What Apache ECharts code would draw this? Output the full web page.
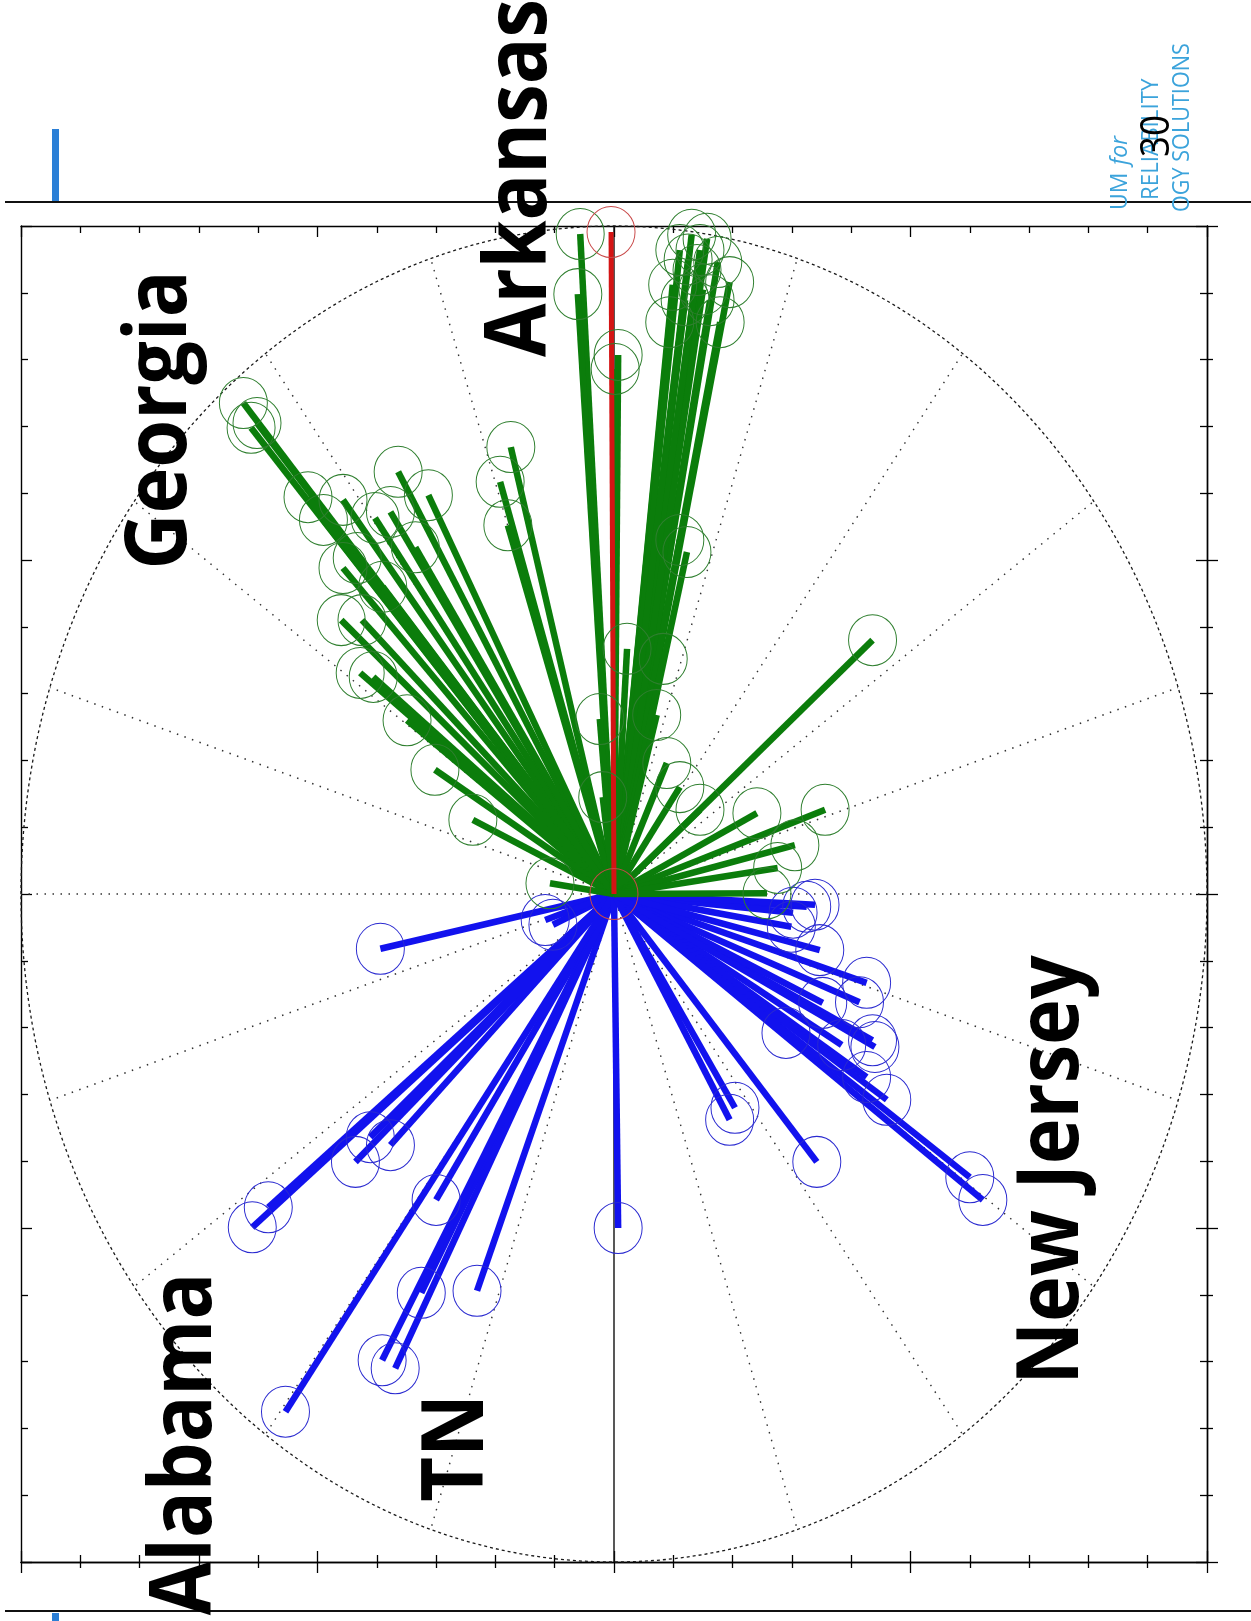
<!DOCTYPE html>
<html>
<head>
<meta charset="utf-8">
<script src="https://cdn.jsdelivr.net/npm/echarts@6/dist/echarts.min.js"></script>
<style>
  html, body { margin: 0; padding: 0; background: #fff; }
  #chart { width: 1251px; height: 1621px; }
</style>
</head>
<body>
<div id="chart"></div>
<script>
// ---- Data (phasor end points, in plot units; centre = 0,0, outer circle radius = 10) ----
const georgiaPhasors = [
  [-6.25, 7.35], [-6.12, 6.98], [-6.02, 7.05], [-5.16, 5.94], [-4.57, 5.90], [-3.64, 6.32], [-3.13, 5.97],
  [-4.03, 5.63], [-3.77, 5.72], [-3.35, 5.19], [-4.57, 4.88], [-4.33, 5.03], [-4.60, 4.10],
  [-4.25, 4.10], [-4.28, 3.31], [-4.06, 3.25], [-3.49, 2.60], [-3.02, 1.86], [-2.38, 1.11],
  [-1.74, 6.69], [-1.92, 6.17], [-1.79, 5.52], [-1.08, 0.16], [-4.90, 5.60], [-3.90, 4.60]
];
const arkansasPhasors = [
  [-0.57, 9.88], [-0.61, 8.98], [0.07, 8.07], [0.02, 7.86],
  [1.31, 9.87], [1.57, 9.81], [1.45, 9.64], [1.75, 9.46], [1.95, 9.16], [1.79, 8.56],
  [0.99, 9.12], [0.94, 8.56], [1.20, 8.89], [1.62, 8.89], [1.40, 9.34], [1.11, 9.64],
  [1.25, 9.50], [1.50, 9.05]
];
const greenOtherPhasors = [
  [1.23, 5.12], [1.11, 5.30], [0.83, 3.52], [0.72, 2.68], [-0.24, 2.62], [0.22, 3.67],
  [4.36, 3.80], [0.89, 1.96], [1.11, 1.60], [1.45, 1.26], [2.41, 1.21], [3.56, 1.26],
  [3.05, 0.73], [2.76, 0.39], [2.58, 0.01], [-0.19, 1.45]
];
const redPhasors = [[-0.05, 9.91], [0.0, 0.0]];
const alabamaTnPhasors = [
  [-3.94, -0.82], [-1.03, -0.46], [-1.16, -0.39], [-5.83, -4.69], [-6.10, -4.99],
  [-4.36, -4.01], [-4.11, -3.64], [-3.77, -3.76], [-3.00, -4.58], [-2.31, -5.94],
  [-3.25, -5.97], [-3.91, -6.98], [-3.69, -7.10], [-5.54, -7.75], [0.07, -5.00]
];
const newJerseyPhasors = [
  [3.25, -0.19], [3.02, -0.28], [3.39, -0.16], [2.99, -0.49], [4.26, -1.33], [4.14, -1.62],
  [3.84, -2.26], [4.36, -2.19], [3.52, -1.63], [4.26, -2.74], [4.60, -3.08], [6.22, -4.58],
  [6.00, -4.24], [3.42, -4.01], [2.04, -3.20], [1.95, -3.38], [2.90, -2.08], [3.47, -0.84],
  [4.40, -2.29]
];
const spokeAngles = [18, 36, 54, 72, 90, 108, 126, 144, 162, 198, 216, 234, 252, 270, 288, 306, 324, 342];
const outerRadius = [10];
const axisRange = [-10, 10];
const stateLabels = ['Georgia', 'Arkansas', 'New Jersey', 'Alabama', 'TN'];
const logoLines = ['UM ', 'for', 'RELIABILITY', 'OGY SOLUTIONS'];
const pageNumber = '30';

const GREEN = '#0b7d0b', BLUE = '#1212ee', RED = '#d41414';
const greenAll = georgiaPhasors.concat(arkansasPhasors, greenOtherPhasors);
const blueAll = alabamaTnPhasors.concat(newJerseyPhasors);

function phasorSeries(data, color, width) {
  return {
    type: 'custom', xAxisIndex: 0, yAxisIndex: 0, data: data, silent: true, z: 4,
    encode: { x: 0, y: 1 },
    renderItem: function (params, api) {
      const p0 = api.coord([0, 0]);
      const p1 = api.coord([api.value(0), api.value(1)]);
      return { type: 'line', shape: { x1: p0[0], y1: p0[1], x2: p1[0], y2: p1[1] },
               style: { stroke: color, lineWidth: width, lineCap: 'butt' } };
    }
  };
}
function circleSeries(data, color) {
  return {
    type: 'scatter', xAxisIndex: 0, yAxisIndex: 0, data: data, silent: true, z: 5,
    symbol: 'circle', symbolSize: [48, 51],
    itemStyle: { color: 'rgba(0,0,0,0)', borderColor: color, borderWidth: 1, opacity: 1 },
    emphasis: { disabled: true }
  };
}

function axisCommon(extra) {
  return Object.assign({
    type: 'value', min: axisRange[0], max: axisRange[1], interval: 5,
    axisLine: { show: true, onZero: false, lineStyle: { color: '#000', width: 1.4 } },
    axisLabel: { show: false }, splitLine: { show: false }
  }, extra);
}
const tickOut = { axisTick: { show: true, inside: false, length: 11, lineStyle: { color: '#000', width: 1.3 } },
                  minorTick: { show: true, splitNumber: 5, length: 6, lineStyle: { color: '#000', width: 1.3 } } };
const tickIn = { axisTick: { show: true, inside: true, length: 11, lineStyle: { color: '#000', width: 1.3 } },
                 minorTick: { show: true, splitNumber: 5, length: 7, lineStyle: { color: '#000', width: 1.3 } } };

const gridRect = { left: 21, top: 226, width: 1186, height: 1336 };

const chart = echarts.init(document.getElementById('chart'), null, { renderer: 'canvas' });
const label = (txt, x, y, size, weight, color, sx, align, style) => ({
  type: 'text', x: x, y: y, rotation: Math.PI / 2, scaleX: sx, scaleY: 1, z: 100,
  style: { text: txt, fill: color, font: (style || 'normal') + ' ' + weight + ' ' + size + 'px "Open Sans"',
           textAlign: align || 'center', textVerticalAlign: 'middle' }
});

chart.setOption({
  animation: false,
  backgroundColor: '#fff',
  grid: [Object.assign({}, gridRect), Object.assign({}, gridRect)],
  xAxis: [
    axisCommon(Object.assign({ gridIndex: 0, position: 'bottom' }, tickOut)),
    axisCommon(Object.assign({ gridIndex: 0, position: 'top' }, tickIn)),
    axisCommon(Object.assign({ gridIndex: 1, position: 'bottom' }, tickIn))
  ],
  yAxis: [
    axisCommon(Object.assign({ gridIndex: 0, position: 'left' }, tickIn)),
    axisCommon(Object.assign({ gridIndex: 0, position: 'right' }, tickOut)),
    axisCommon(Object.assign({ gridIndex: 1, position: 'right' }, tickIn))
  ],
  series: [
    {
      type: 'custom', xAxisIndex: 0, yAxisIndex: 0, data: [[0, 0]], silent: true, z: 1,
      encode: { x: 0, y: 1 },
      renderItem: function (params, api) {
        const c = api.coord([0, 0]);
        const R = outerRadius[0];
        const bottom = api.coord([0, -R]);
        const right = api.coord([R, 0]);
        const children = [{
          type: 'ellipse',
          shape: { cx: c[0], cy: c[1], rx: Math.abs(right[0] - c[0]), ry: Math.abs(bottom[1] - c[1]) },
          style: { fill: 'none', stroke: '#1a1a1a', lineWidth: 1.3, lineDash: [3, 3] }
        }];
        spokeAngles.forEach(function (a) {
          const r = a * Math.PI / 180;
          const e = api.coord([R * Math.sin(r), R * Math.cos(r)]);
          children.push({ type: 'line', shape: { x1: c[0], y1: c[1], x2: e[0], y2: e[1] },
                          style: { stroke: '#333', lineWidth: 1.4, lineDash: [1.5, 6.5] } });
        });
        const yTop = api.coord([0, axisRange[1]]), yBot = api.coord([0, axisRange[0]]);
        children.push({ type: 'line', shape: { x1: yTop[0], y1: yTop[1], x2: yBot[0], y2: yBot[1] },
                        style: { stroke: '#111', lineWidth: 1.4 } });
        return { type: 'group', children: children };
      }
    },
    phasorSeries(blueAll, BLUE, 6.5),
    phasorSeries(greenAll, GREEN, 6.5),
    phasorSeries(redPhasors, RED, 5),
    circleSeries(blueAll, '#2a2ad0'),
    circleSeries(greenAll, '#2f7f2f'),
    circleSeries(redPhasors, '#c84848')
  ],
  graphic: [
    { type: 'rect', shape: { x: 52, y: 129, width: 7, height: 73 }, style: { fill: '#2b7fd6' }, z: 50 },
    { type: 'rect', shape: { x: 52, y: 1613, width: 7, height: 8 }, style: { fill: '#2b7fd6' }, z: 50 },
    { type: 'line', shape: { x1: 5, y1: 202, x2: 1251, y2: 202 }, style: { stroke: '#111', lineWidth: 2 }, z: 50 },
    { type: 'line', shape: { x1: 5, y1: 1611, x2: 1251, y2: 1611 }, style: { stroke: '#111', lineWidth: 2 }, z: 50 },
    label(logoLines[0], 1120, 210, 23, 'normal', '#3ba3db', 1, 'left'),
    label(logoLines[1], 1120, 165, 23, 'normal', '#3ba3db', 1, 'left', 'italic'),
    label(logoLines[2], 1151, 200, 23, 'normal', '#3ba3db', 0.97, 'left'),
    label(logoLines[3], 1182, 212, 23, 'normal', '#3ba3db', 0.94, 'left'),
    label(pageNumber, 1158, 136, 40, 'normal', '#000', 0.92),
    label(stateLabels[0], 161, 420, 86, 'bold', '#000', 0.9),
    label(stateLabels[1], 521, 178, 86, 'bold', '#000', 0.9),
    label(stateLabels[2], 1053, 1170, 86, 'bold', '#000', 0.9),
    label(stateLabels[3], 186, 1444, 86, 'bold', '#000', 0.9),
    label(stateLabels[4], 458, 1448, 86, 'bold', '#000', 0.9)
  ]
});
</script>
</body>
</html>
